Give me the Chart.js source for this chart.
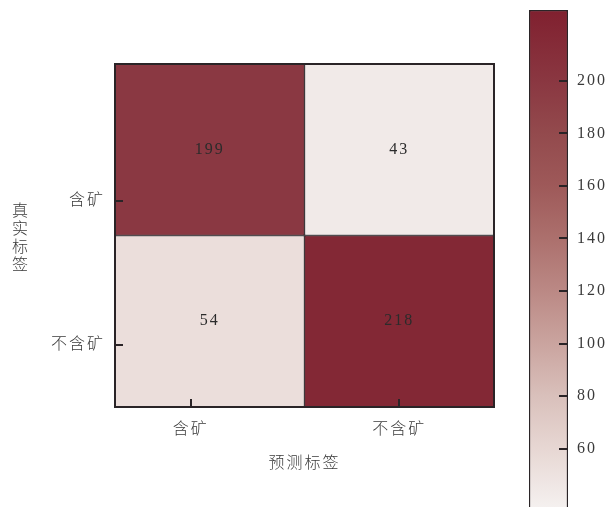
<!DOCTYPE html>
<html>
<head>
<meta charset="utf-8">
<script src="https://cdn.jsdelivr.net/npm/chart.js@4.4.1/dist/chart.umd.min.js"></script>
<style>
  html, body { margin: 0; padding: 0; background: #fff; overflow: hidden; }
  #wrap { position: relative; width: 609px; height: 507px; }
  #matrix { position: absolute; left: 0; top: 0; }
  #scaleBar { position: absolute; left: 520px; top: 0; }
</style>
</head>
<body>
<div id="wrap">
  <canvas id="matrix" width="520" height="507"></canvas>
  <canvas id="scaleBar" width="89" height="512"></canvas>
</div>
<script>
// confusion matrix, rows = true label, columns = predicted label
const trueLabels = ["含矿", "不含矿"];
const predLabels = ["含矿", "不含矿"];
const rowOre = [199, 43];
const rowNoOre = [54, 218];
const colorbarRange = [37, 227];
const colorbarTicks = [60, 80, 100, 120, 140, 160, 180, 200];

const FONT = "'Liberation Serif', 'Noto Sans CJK SC', serif";
const INK = "#2b2b2b";
const LABEL = "#3a3a3a";
const EDGE = "#2a2427";

// where the axis ticks sit along each axis (cells are centred on 0 and 1)
const xTickAt = [-0.1, 1.0];
const yTickAt = [0.3, 1.14];

// light -> wine red colour ramp, stops keyed by count
const rampStops = [
  [37, "#f5f1f0"],
  [60, "#e7d7d3"],
  [80, "#d9c0bb"],
  [100, "#caa49f"],
  [120, "#bb8985"],
  [140, "#ac706d"],
  [160, "#9e5959"],
  [180, "#934a4d"],
  [200, "#8a3741"],
  [227, "#80202f"],
];

function hexToRgb(h) {
  return [1, 3, 5].map((i) => parseInt(h.slice(i, i + 2), 16));
}

function rampColor(v) {
  if (v <= rampStops[0][0]) return rampStops[0][1];
  for (let i = 1; i < rampStops.length; i++) {
    if (v <= rampStops[i][0]) {
      const [v0, c0] = rampStops[i - 1];
      const [v1, c1] = rampStops[i];
      const t = (v - v0) / (v1 - v0);
      const a = hexToRgb(c0);
      const b = hexToRgb(c1);
      const rgb = a.map((x, k) => Math.round(x + (b[k] - x) * t));
      return "rgb(" + rgb.join(",") + ")";
    }
  }
  return rampStops[rampStops.length - 1][1];
}

function returnCells() {
  const rows = [rowOre, rowNoOre];
  let cells = [];
  rows.forEach((row, r) => {
    row.forEach((v, c) => {
      cells.push({ x: c, y: [r - 0.5, r + 0.5], v: v });
    });
  });
  return cells;
}

function spacedText(chart) {
  chart.ctx.letterSpacing = "2px";
}

// value labels, outer frame and inward tick marks
const matrixDecor = {
  id: "matrixDecor",
  beforeDraw: spacedText,
  afterDatasetsDraw(chart) {
    const ctx = chart.ctx;
    const area = chart.chartArea;
    const meta = chart.getDatasetMeta(0);
    const cells = chart.data.datasets[0].data;
    ctx.save();
    ctx.font = "16px " + FONT;
    ctx.fillStyle = INK;
    ctx.textAlign = "center";
    ctx.textBaseline = "middle";
    meta.data.forEach((bar, i) => {
      ctx.fillText(String(cells[i].v), bar.x, (bar.y + bar.base) / 2);
    });

    ctx.strokeStyle = EDGE;
    ctx.lineWidth = 2;
    ctx.strokeRect(area.left, area.top, area.right - area.left, area.bottom - area.top);

    ctx.beginPath();
    chart.scales.x.ticks.forEach((t) => {
      const px = Math.round(chart.scales.x.getPixelForValue(t.value));
      ctx.moveTo(px, area.bottom);
      ctx.lineTo(px, area.bottom - 8);
    });
    chart.scales.y.ticks.forEach((t) => {
      const py = Math.round(chart.scales.y.getPixelForValue(t.value));
      ctx.moveTo(area.left, py);
      ctx.lineTo(area.left + 8, py);
    });
    ctx.stroke();
    ctx.restore();
  },
  afterDraw(chart) {
    const ctx = chart.ctx;
    const area = chart.chartArea;
    ctx.save();
    ctx.font = "300 16px " + FONT;
    ctx.fillStyle = LABEL;
    ctx.textAlign = "center";
    ctx.textBaseline = "middle";
    ctx.fillText("预测标签", (area.left + area.right) / 2, area.bottom + 57);
    // upright stacked characters for the row title
    const yTitle = "真实标签";
    const midY = (area.top + area.bottom) / 2 + 3;
    ctx.letterSpacing = "0px";
    for (let i = 0; i < yTitle.length; i++) {
      ctx.fillText(yTitle[i], 20, midY + (i - 1.5) * 18);
    }
    ctx.restore();
  },
};

function matrixChart() {
  new Chart(document.getElementById("matrix"), {
    type: "bar",
    data: {
      datasets: [
        {
          data: returnCells(),
          backgroundColor: (c) => (c.raw ? rampColor(c.raw.v) : "#ccc"),
          borderColor: EDGE,
          borderWidth: 1,
          borderSkipped: false,
          barPercentage: 1,
          categoryPercentage: 1,
        },
      ],
    },
    options: {
      responsive: false,
      devicePixelRatio: 1,
      animation: false,
      layout: { padding: { top: 64, right: 26, left: 0, bottom: 0 } },
      plugins: { legend: { display: false }, tooltip: { enabled: false } },
      scales: {
        x: {
          type: "linear",
          min: -0.5,
          max: 1.5,
          offset: false,
          grid: { display: false },
          border: { display: false },
          afterBuildTicks: (s) => {
            s.ticks = xTickAt.map((v) => ({ value: v }));
          },
          afterFit: (s) => {
            s.height = 100;
          },
          ticks: {
            padding: 5,
            maxRotation: 0,
            autoSkip: false,
            color: LABEL,
            font: { family: FONT, size: 16, weight: 300 },
            callback: (v, i) => predLabels[i],
          },
        },
        y: {
          type: "linear",
          reverse: true,
          min: -0.5,
          max: 1.5,
          grid: { display: false },
          border: { display: false },
          afterBuildTicks: (s) => {
            s.ticks = yTickAt.map((v) => ({ value: v }));
          },
          afterFit: (s) => {
            s.width = 115;
          },
          ticks: {
            padding: 2,
            autoSkip: false,
            color: LABEL,
            font: { family: FONT, size: 16, weight: 300 },
            callback: (v, i) => trueLabels[i],
          },
        },
      },
    },
    plugins: [matrixDecor],
  });
}

function barGradient(chart) {
  const y = chart.scales.y;
  if (!y) return rampStops[0][1];
  const top = y.getPixelForValue(colorbarRange[1]);
  const bottom = y.getPixelForValue(colorbarRange[0]);
  if (!isFinite(top) || !isFinite(bottom)) return rampStops[0][1];
  const g = chart.ctx.createLinearGradient(0, bottom, 0, top);
  rampStops.forEach(([v, col]) => {
    const t = (v - colorbarRange[0]) / (colorbarRange[1] - colorbarRange[0]);
    g.addColorStop(Math.min(1, Math.max(0, t)), col);
  });
  return g;
}

// small inward ticks on the colour bar's right edge
const barDecor = {
  id: "barDecor",
  beforeDraw: spacedText,
  afterDatasetsDraw(chart) {
    const ctx = chart.ctx;
    const area = chart.chartArea;
    const y = chart.scales.y;
    ctx.save();
    ctx.strokeStyle = EDGE;
    ctx.lineWidth = 2;
    ctx.beginPath();
    y.ticks.forEach((t) => {
      const py = Math.round(y.getPixelForValue(t.value));
      ctx.moveTo(area.right, py);
      ctx.lineTo(area.right - 9, py);
    });
    ctx.stroke();
    ctx.restore();
  },
};

function colorbarChart() {
  const bar = new Chart(document.getElementById("scaleBar"), {
    type: "bar",
    data: {
      labels: [""],
      datasets: [
        {
          data: [colorbarRange],
          backgroundColor: (c) => barGradient(c.chart),
          borderColor: EDGE,
          borderWidth: 1.5,
          borderSkipped: false,
          barPercentage: 1,
          categoryPercentage: 1,
        },
      ],
    },
    options: {
      responsive: false,
      devicePixelRatio: 1,
      animation: false,
      layout: { padding: { top: 10, left: 9, right: 0, bottom: 3 } },
      plugins: { legend: { display: false }, tooltip: { enabled: false } },
      scales: {
        x: { display: false },
        y: {
          position: "right",
          min: colorbarRange[0],
          max: colorbarRange[1],
          grid: { display: false },
          border: { display: false },
          afterBuildTicks: (s) => {
            s.ticks = colorbarTicks.map((v) => ({ value: v }));
          },
          afterFit: (s) => {
            s.width = 41;
            // labels sit well inside the bar, no need to reserve room above/below
            s.paddingTop = 0;
            s.paddingBottom = 0;
          },
          ticks: {
            padding: 1,
            color: LABEL,
            font: { family: FONT, size: 16 },
          },
        },
      },
    },
    plugins: [barDecor],
  });
  // second pass so the gradient is built against the laid-out scale
  bar.update();
}

matrixChart();
colorbarChart();
</script>
</body>
</html>
